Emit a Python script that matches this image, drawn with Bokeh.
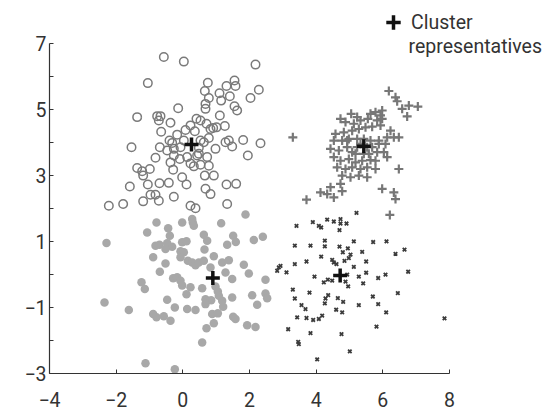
from bokeh.plotting import figure
from bokeh.models import Range1d, FixedTicker, Legend, LegendItem, Label
from bokeh.embed import file_html
from bokeh.resources import INLINE

# Cluster A: open circles
a_x = [-0.57, 0.03, 2.18, -1.05, 0.75, 1.55, 1.31, 1.58, 0.66, 1.10, 2.28, 2.03, 1.41, 1.15, 0.78,
       0.68, 0.68, -0.14, 1.55, 1.63, -1.37, -0.77, -0.67, -0.37, 0.41, 0.53, 1.11, 0.23, 0.71, 0.91,
       1.01, 1.26, 0.08, -0.65, 0.36, -0.40, -0.32, 0.03, 0.53, -1.54, -0.69, -0.27, -0.07, 0.63, 0.98,
       1.28, 1.38, 1.48, 1.81, 2.33, 1.95, -0.82, -0.27, -0.09, 0.13, 0.48, 0.73, 0.53, 0.33, -0.37,
       -1.37, -1.22, -0.99, -1.19, -0.02, -0.29, 0.78, -1.59, -1.05, -0.70, -0.42, 0.11, 0.66, 0.93, 0.68,
       0.83, 1.31, 1.60, -0.97, -0.82, -0.27, -0.72, -1.19, -2.22, -1.79, 0.23, 0.38, 1.33, -0.47, -0.17,
       0.48, 0.78, 0.43, 0.23, 0.83, -0.72]
a_y = [6.58, 6.44, 6.35, 5.79, 5.80, 5.87, 5.70, 5.70, 5.55, 5.48, 5.59, 5.34, 5.39, 5.26, 5.34,
       5.16, 5.01, 5.03, 5.09, 4.96, 4.76, 4.79, 4.79, 4.59, 4.71, 4.66, 4.81, 4.51, 4.56, 4.43,
       4.45, 4.49, 4.37, 4.32, 4.33, 4.05, 3.98, 4.05, 4.05, 3.85, 3.85, 3.80, 3.85, 4.00, 3.80,
       4.00, 4.05, 3.87, 4.07, 3.97, 3.60, 3.53, 3.60, 3.49, 3.55, 3.65, 3.55, 3.32, 3.27, 3.39,
       3.22, 3.12, 3.19, 2.99, 2.94, 3.17, 3.29, 2.66, 2.72, 2.76, 2.77, 2.72, 2.99, 2.99, 2.59,
       2.43, 2.72, 2.74, 2.41, 2.41, 2.35, 2.23, 2.21, 2.08, 2.13, 2.08, 2.00, 2.13, 3.75, 4.23,
       3.83, 4.13, 3.60, 3.36, 4.40, 4.66]

# Cluster B: filled grey dots
b_x = [1.88, -0.79, -0.44, -0.02, 0.28, 0.30, 0.33, 1.15, -1.07, -0.39, 0.63, 0.73, 1.51, 1.59, 2.13,
       2.40, -2.29, -0.82, -0.70, -0.47, -0.32, -0.02, 0.11, -0.52, -0.07, 0.03, 0.65, 1.33, -0.89, -0.07,
       0.15, 0.28, 0.38, 0.48, 0.63, 0.93, 1.18, 1.38, 1.83, -0.52, -0.69, 0.83, 1.28, 1.98, 2.48,
       1.48, -1.24, -1.14, -0.29, -0.17, -0.07, -0.02, 0.23, 0.11, 0.58, 0.98, 1.05, 1.08, -2.35, -1.62,
       -0.47, -0.24, 0.13, 0.38, 0.68, 0.85, 0.68, 1.18, 1.21, 1.48, 2.08, 2.48, 2.53, 2.23, -0.89,
       -0.79, -0.57, -0.37, 0.88, 1.05, 1.51, 1.58, 0.93, 0.71, 1.93, 2.18, 0.58, -1.12, -0.24]
b_y = [1.81, 1.57, 1.40, 1.57, 1.68, 1.57, 1.47, 1.55, 1.27, 1.17, 1.20, 1.02, 1.17, 0.98, 1.04,
       1.14, 0.95, 0.87, 0.90, 0.94, 0.84, 0.97, 1.00, 0.77, 0.70, 0.67, 0.75, 0.90, 0.52, 0.52,
       0.41, 0.36, 0.28, 0.36, 0.41, 0.55, 0.36, 0.43, 0.29, 0.33, 0.08, 0.21, 0.06, 0.03, -0.16,
       -0.14, -0.24, -0.44, -0.12, -0.09, -0.19, -0.34, -0.39, -0.60, -0.42, -0.37, -0.52, -0.65, -0.85, -1.08,
       -0.77, -1.00, -1.05, -1.08, -0.75, -0.78, -0.90, -0.80, -0.98, -0.70, -0.63, -0.58, -0.72, -0.92, -1.20,
       -1.30, -1.27, -1.40, -1.20, -1.18, -1.28, -1.35, -1.48, -1.63, -1.54, -1.59, -2.06, -2.69, -2.87]

# Cluster C: small x marks
c_x = [5.21, 3.41, 3.90, 4.08, 4.15, 4.33, 4.53, 4.73, 4.73, 4.91, 4.70, 3.36, 3.83, 4.26, 4.26,
       4.70, 5.13, 5.71, 6.11, 6.65, 6.38, 4.95, 4.80, 5.38, 5.03, 4.98, 4.15, 3.71, 3.36, 4.48,
       4.53, 4.61, 4.85, 5.50, 5.13, 2.88, 2.93, 2.83, 3.11, 4.93, 5.28, 5.50, 6.08, 5.86, 6.76,
       3.95, 4.23, 4.35, 4.48, 4.88, 4.96, 5.41, 3.30, 3.80, 3.36, 4.36, 4.28, 4.26, 4.65, 4.81,
       5.70, 6.45, 5.28, 5.86, 3.56, 3.68, 4.60, 4.78, 6.10, 3.43, 3.71, 3.91, 4.08, 4.18, 7.85,
       5.81, 3.16, 3.83, 4.76, 3.46, 3.48, 5.01, 4.03]
c_y = [1.86, 1.47, 1.58, 1.47, 1.42, 1.66, 1.60, 1.67, 1.54, 1.54, 1.34, 0.87, 0.87, 1.02, 0.85,
       0.84, 1.00, 0.98, 1.00, 0.75, 0.62, 0.79, 0.67, 0.68, 0.60, 0.49, 0.54, 0.39, 0.31, 0.44,
       0.36, 0.31, 0.41, 0.39, 0.23, 0.21, 0.26, 0.11, 0.06, -0.01, -0.07, 0.05, -0.01, -0.11, 0.08,
       -0.07, -0.24, -0.16, -0.19, -0.22, -0.36, -0.27, -0.46, -0.55, -0.73, -0.63, -0.73, -0.88, -0.72, -0.83,
       -0.67, -0.57, -0.93, -0.90, -0.93, -1.05, -1.07, -1.15, -1.15, -1.30, -1.32, -1.38, -1.35, -1.25, -1.33,
       -1.58, -1.66, -1.78, -1.81, -2.04, -2.11, -2.33, -2.57]

# Cluster D: four-point stars
d_x = [6.18, 6.38, 6.43, 6.78, 7.05, 6.58, 6.73, 5.98, 5.93, 5.78, 5.63, 5.55, 5.83, 5.98, 5.05,
       4.73, 4.88, 5.13, 5.33, 4.58, 4.83, 5.08, 5.28, 5.48, 5.68, 5.93, 6.23, 6.48, 6.13, 5.88,
       5.63, 5.23, 4.98, 4.78, 4.53, 3.30, 4.43, 4.68, 4.93, 5.08, 5.23, 5.68, 5.88, 6.08, 5.83,
       5.58, 6.03, 4.53, 4.73, 4.98, 5.18, 5.38, 5.63, 4.63, 4.88, 5.08, 5.33, 5.53, 5.78, 6.48,
       4.78, 5.03, 5.28, 5.53, 4.73, 4.43, 4.78, 4.13, 4.33, 4.53, 3.71, 5.98, 6.33, 6.38, 6.21,
       5.43, 5.33, 5.53, 4.93, 5.18, 5.43, 5.78, 6.13, 6.33, 5.23]
d_y = [5.55, 5.36, 5.24, 5.11, 5.08, 5.01, 4.78, 4.96, 4.81, 4.91, 4.86, 4.71, 4.66, 4.71, 4.86,
       4.71, 4.61, 4.56, 4.66, 4.25, 4.30, 4.35, 4.40, 4.45, 4.47, 4.51, 4.35, 4.15, 4.15, 4.05,
       4.05, 4.10, 4.10, 4.05, 4.05, 4.15, 3.80, 3.75, 3.85, 3.70, 3.85, 3.85, 3.95, 3.95, 3.70,
       3.65, 3.70, 3.55, 3.44, 3.49, 3.39, 3.44, 3.46, 3.24, 3.19, 3.24, 3.19, 3.24, 3.19, 3.19,
       2.99, 2.94, 2.99, 2.94, 2.74, 2.64, 2.52, 2.48, 2.43, 2.33, 2.26, 2.59, 2.48, 2.28, 1.80,
       4.10, 3.95, 3.85, 4.05, 3.65, 3.65, 3.44, 3.55, 4.15, 4.76]

# Cluster representatives
rep_x = [0.26, 0.90, 4.72, 5.43]
rep_y = [3.93, -0.11, -0.03, 3.88]

x_ticks = [-4, -2, 0, 2, 4, 6, 8]
y_ticks = [-3, -1, 1, 3, 5, 7]
y_minor = [-2, 0, 2, 4, 6]

FONT = "Roboto"
TXT = "#333333"

# The frame reaches the top and right edges so the key can sit inside it;
# the axes themselves are bounded to [-4, 8] and [-3, 7].
p = figure(width=550, height=418, output_backend="svg", toolbar_location=None,
           x_range=Range1d(-4, 11.03), y_range=Range1d(-3, 8.29),
           min_border_left=49, min_border_right=0, min_border_top=0, min_border_bottom=45)
p.outline_line_color = None
p.grid.visible = False
p.background_fill_color = "white"
p.border_fill_color = "white"

p.scatter(a_x, a_y, marker="circle", size=8.5, fill_color=None, line_color="#7a7a7a", line_width=1.5)
p.scatter(b_x, b_y, marker="circle", size=8.5, fill_color="#a8a8a8", line_color=None)
p.scatter(c_x, c_y, marker="x", size=5, line_color="#3c3c3c", line_width=1.8)
p.scatter(d_x, d_y, marker="cross", size=9, line_color="#777777", line_width=2.2)
rep = p.scatter(rep_x, rep_y, marker="cross", size=14, line_color="#111111", line_width=3.5)

for ax in (p.xaxis[0], p.yaxis[0]):
    ax.axis_line_color = TXT
    ax.axis_line_width = 1.2
    ax.major_tick_line_color = TXT
    ax.minor_tick_line_color = TXT
    ax.major_tick_in = 4
    ax.major_tick_out = 0
    ax.minor_tick_in = 4
    ax.minor_tick_out = 0
    ax.major_label_text_font = FONT
    ax.major_label_text_font_size = "19.5px"
    ax.major_label_text_color = TXT

p.xaxis[0].bounds = (-4, 8)
p.yaxis[0].bounds = (-3, 7)
p.xaxis[0].ticker = FixedTicker(ticks=x_ticks)
p.yaxis[0].ticker = FixedTicker(ticks=y_ticks, minor_ticks=y_minor)
p.xaxis[0].major_label_standoff = 18
p.yaxis[0].major_label_standoff = 3
p.xaxis[0].major_label_overrides = {t: str(t).replace("-", "\u2212") for t in x_ticks}
p.yaxis[0].major_label_overrides = {t: str(t).replace("-", "\u2212") for t in y_ticks}

legend = Legend(items=[LegendItem(label="Cluster", renderers=[rep])],
                location=(326, 333), orientation="vertical",
                glyph_width=36, glyph_height=36, label_standoff=-3,
                padding=0, margin=0, spacing=0,
                border_line_color=None, background_fill_alpha=0,
                label_text_font=FONT, label_text_font_size="19.5px", label_text_color=TXT)
p.add_layout(legend, "center")
p.add_layout(Label(x=359, y=327.5, x_units="screen", y_units="screen", text="representatives",
                   text_font=FONT, text_font_size="19.5px", text_color=TXT,
                   text_baseline="middle", text_align="left"))

open("out.html", "w").write(file_html(p, INLINE))
